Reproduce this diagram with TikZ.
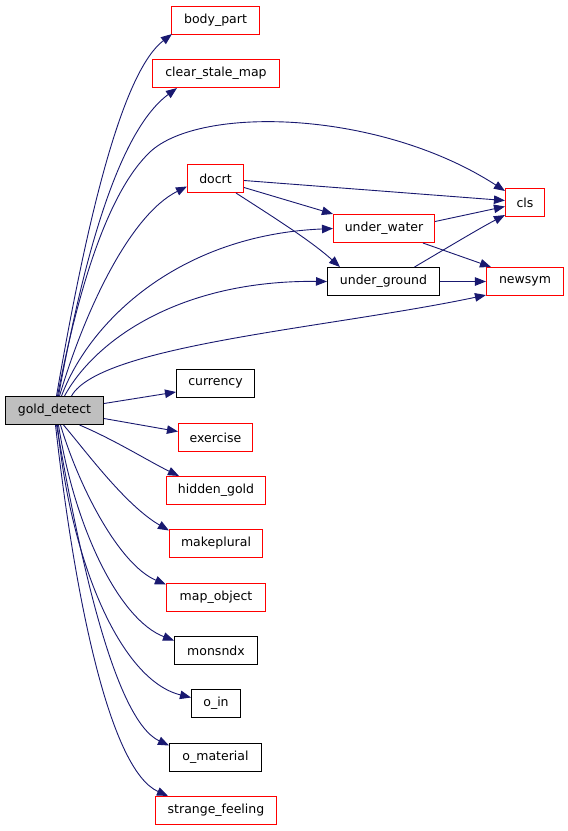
\documentclass[tikz,border=0pt]{standalone}
\usepackage{fontspec}
\setmainfont{DejaVu Sans}
\usetikzlibrary{arrows.meta,calc}
\definecolor{edgeblue}{HTML}{191970}
\definecolor{boxred}{HTML}{FF0000}
\definecolor{gdfill}{HTML}{BFBFBF}
\begin{document}
\begin{tikzpicture}[x=1pt,y=-1pt,
  fn/.style={draw=black,line width=1pt,fill=white,minimum height=28pt,inner sep=0pt,
    font=\fontsize{12.5}{14}\selectfont},
  rfn/.style={fn,draw=boxred,line width=1.1pt},
  call/.style={draw=edgeblue,line width=0.9pt,-{Triangle[length=11pt,width=8.5pt]}}]
\useasboundingbox (0,0) rectangle (568,831);
\fill[white] (0,0) rectangle (568,831);
% nodes
\node[fn,fill=gdfill,minimum width=98pt] (gd) at (54.5,410.5) {gold\_detect};
\node[rfn,minimum width=88pt] (bp) at (215.5,20.5) {body\_part};
\node[rfn,minimum width=127pt] (csm) at (216,73.5) {clear\_stale\_map};
\node[rfn,minimum width=56pt] (docrt) at (215.5,178.5) {docrt};
\node[rfn,minimum width=39pt] (cls) at (525,202.5) {cls};
\node[rfn,minimum width=101pt] (uw) at (384,228.5) {under\_water};
\node[fn,minimum width=112pt] (ug) at (383.5,281.5) {under\_ground};
\node[rfn,minimum width=77pt] (ns) at (525,281.5) {newsym};
\node[fn,minimum width=78pt] (cur) at (215.5,383.5) {currency};
\node[rfn,minimum width=74pt] (ex) at (215.5,437.5) {exercise};
\node[rfn,minimum width=99pt] (hg) at (216,490.5) {hidden\_gold};
\node[rfn,minimum width=93pt] (mp) at (216,543.5) {makeplural};
\node[rfn,minimum width=99pt] (mo) at (216,597.5) {map\_object};
\node[fn,minimum width=83pt] (mx) at (216,650.5) {monsndx};
\node[fn,minimum width=49pt] (oin) at (216,703.5) {o\_in};
\node[fn,minimum width=92pt] (om) at (215.5,757.5) {o\_material};
\node[rfn,minimum width=121pt] (sf) at (216,810.5) {strange\_feeling};
% edges from gold_detect
\draw[call] ($(gd.north)+(2,0)$) .. controls (90,200) and (125,70) .. ($(bp.south west)+(1,-1)$);
\draw[call] ($(gd.north)+(4,0)$) .. controls (85,250) and (120,130) .. ($(csm.south west)+(25,0)$);
\draw[call] ($(gd.north)+(3,0)$) .. controls (80,280) and (110,190) .. (150,152)
  .. controls (200,105) and (380,110) .. ($(cls.north west)+(0,3)$);
\draw[call] ($(gd.north)+(5,0)$) .. controls (85,310) and (130,215) .. ($(docrt.west)+(0,8)$);
\draw[call] ($(gd.north)+(7,0)$) .. controls (90,320) and (180,235) .. ($(uw.west)+(0,0)$);
\draw[call] ($(gd.north)+(10,0)$) .. controls (95,340) and (180,280) .. ($(ug.west)+(0,0)$);
\draw[call] ($(gd.north)+(17,0)$) .. controls (100,345) and (330,328) .. ($(ns.south west)+(0,-1)$);
\draw[call] ($(gd.east)+(0,-7)$) -- ($(cur.west)+(0,8.5)$);
\draw[call] ($(gd.east)+(0,8)$) -- ($(ex.west)+(0,-6)$);
\draw[call] ($(gd.south)+(25,0)$) .. controls (115,440) and (150,462) .. ($(hg.north west)+(13,0)$);
\draw[call] ($(gd.south)+(9,0)$) .. controls (85,450) and (125,505) .. ($(mp.west)+(0,-13)$);
\draw[call] ($(gd.south)+(6,0)$) .. controls (80,490) and (120,565) .. ($(mo.west)+(0,-13)$);
\draw[call] ($(gd.south)+(4,0)$) .. controls (75,530) and (120,620) .. ($(mx.west)+(0,-10)$);
\draw[call] ($(gd.south)+(3,0)$) .. controls (70,560) and (120,680) .. ($(oin.west)+(0,-6)$);
\draw[call] ($(gd.south)+(2,0)$) .. controls (80,560) and (115,720) .. ($(om.west)+(0,-12)$);
\draw[call] ($(gd.south)+(1,0)$) .. controls (75,600) and (110,770) .. ($(sf.north west)+(13,0)$);
% inner edges
\draw[call] ($(docrt.east)+(0,2)$) -- ($(cls.west)+(0,-2)$);
\draw[call] ($(docrt.east)+(0,9)$) -- ($(uw.north west)+(0,0)$);
\draw[call] ($(docrt.south east)+(-8,0)$) .. controls (270,215) and (310,240) .. ($(ug.north west)+(13,0)$);
\draw[call] ($(uw.east)+(0,-7)$) -- ($(cls.west)+(0,4)$);
\draw[call] ($(ug.north)+(31,0)$) .. controls (440,252) and (480,228) .. ($(cls.south west)+(0,-2)$);
\draw[call] ($(uw.south east)+(-12,0)$) -- ($(ns.north west)+(5,0)$);
\draw[call] (ug.east) -- (ns.west);
\end{tikzpicture}
\end{document}
